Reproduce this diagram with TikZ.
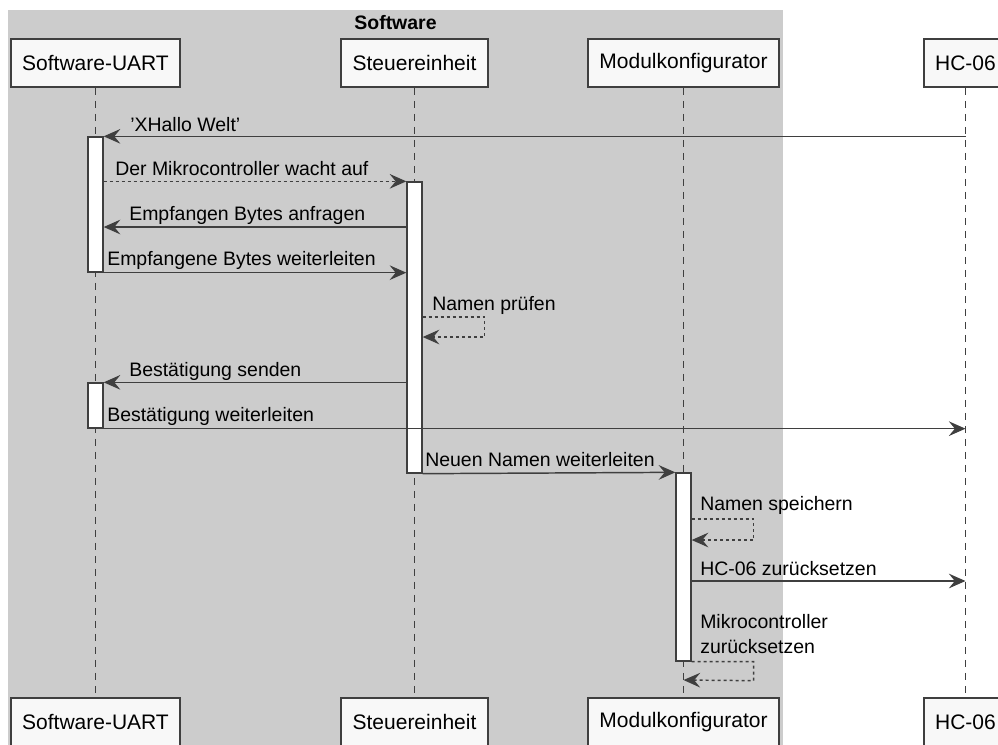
\documentclass[tikz,border=0pt]{standalone}
\usepackage{fontspec}
\setmainfont{Liberation Sans}
\usepackage{xcolor}
\usepackage{tikz}
\usetikzlibrary{arrows.meta,positioning,fit}

\definecolor{groupgray}{HTML}{CCCCCC}
\definecolor{linegray}{HTML}{3F3F3F}
\definecolor{boxfill}{HTML}{F8F8F8}

\begin{document}
\begin{tikzpicture}[
    x=0.75pt, y=-0.75pt,
    every node/.style={font=\fontsize{14.6}{18.7}\selectfont},
    participant/.style={
        draw=linegray,
        line width=1.2pt,
        fill=boxfill,
        minimum height=36pt,
        inner xsep=8.6pt,
        font=\fontsize{15.75}{19}\selectfont
    },
    lifeline/.style={
        draw=linegray,
        line width=0.9pt,
        dash pattern=on 5.25pt off 4.5pt
    },
    activation/.style={
        draw=linegray,
        line width=1pt,
        fill=white,
        inner sep=0pt
    },
    msgtext/.style={
        anchor=base west,
        inner sep=0pt
    },
    message/.style={
        draw=linegray,
        line width=1.1pt,
        -{Stealth[length=12.5pt, width=11pt, inset=4.5pt]}
    },
    reply/.style={
        message,
        dash pattern=on 2.25pt off 2.25pt
    }
]

\useasboundingbox (0,0) rectangle (998,744);

% ==========================================================
% SOFTWARE GROUP
% ==========================================================

\fill[groupgray] (8,10) rectangle (783,750);

\node[
    anchor=base,
    inner sep=0pt,
    font=\bfseries\fontsize{14.6}{18}\selectfont
] (group-title) at (395.5,29.5) {Software};

% ==========================================================
% PARTICIPANTS
% ==========================================================

\node[participant] (uart-top) at (95.5,63)  {Software-UART};
\node[participant] (ctrl-top) at (414.5,63) {Steuereinheit};
\node[participant] (conf-top) at (683.5,63) {Modulkonfigurator};
\node[participant] (hc-top)   at (965.5,63) {HC-06};

\node[participant] (uart-bot) at (95.5,722)  {Software-UART};
\node[participant] (ctrl-bot) at (414.5,722) {Steuereinheit};
\node[participant] (conf-bot) at (683.5,722) {Modulkonfigurator};
\node[participant] (hc-bot)   at (965.5,722) {HC-06};

% lifelines
\draw[lifeline] (uart-top) -- (uart-bot);
\draw[lifeline] (ctrl-top) -- (ctrl-bot);
\draw[lifeline] (conf-top) -- (conf-bot);
\draw[lifeline] (hc-top) -- (hc-bot);

% ==========================================================
% ACTIVATIONS
% ==========================================================

\node[activation, fit={(88,137) (103,272)}] (uart-act1) {};
\node[activation, fit={(88,383) (103,428)}] (uart-act2) {};
\node[activation, fit={(407,182) (422,473)}] (ctrl-act) {};
\node[activation, fit={(676,473) (691,661)}] (conf-act) {};

% ==========================================================
% MESSAGES
% ==========================================================

\coordinate (check-row)  at (0,317);
\coordinate (store-row)  at (0,519);
\coordinate (reset-row)  at (0,581);
\coordinate (return-row) at (0,680);

\draw[message] (hc-top |- uart-act1.north) -- (uart-act1.north east);
\node[msgtext] (lbl-hallo) at (130,131) {'XHallo Welt'};

\draw[reply] (uart-act1.east |- ctrl-act.north) -- (ctrl-act.north west);
\node[msgtext] (lbl-wake) at (115,175) {Der Mikrocontroller wacht auf};

\draw[message] (ctrl-act.west |- 0,227) -- (uart-act1.east |- 0,227);
\node[msgtext] (lbl-request) at (129,220) {Empfangen Bytes anfragen};

\draw[message] (uart-act1.south east) -- (ctrl-act.west |- uart-act1.south);
\node[msgtext] (lbl-forward) at (107,265) {Empfangene Bytes weiterleiten};

% self call: check name
\draw[reply] (ctrl-act.east |- check-row) -- ++(62,0) -- ++(0,20)
    -- (ctrl-act.east |- 0,337);
\node[msgtext] (lbl-check) at (432,310) {Namen prüfen};

\draw[message] (ctrl-act.west |- uart-act2.north) -- (uart-act2.north east);
\node[msgtext] (lbl-confirm) at (129,376) {Bestätigung senden};

\draw[message] (uart-act2.south east) -- (hc-top |- uart-act2.south);
\node[msgtext] (lbl-confirm-fwd) at (107,421) {Bestätigung weiterleiten};

\draw[message] (ctrl-act.south east) -- (conf-act.north west);
\node[msgtext] (lbl-newname) at (425,466) {Neuen Namen weiterleiten};

% self call: store name
\draw[reply] (conf-act.east |- store-row) -- ++(62,0) -- ++(0,21)
    -- (conf-act.east |- 0,540);
\node[msgtext] (lbl-store) at (700,510) {Namen speichern};

\draw[message] (conf-act.east |- reset-row) -- (hc-top |- reset-row);
\node[msgtext] (lbl-reset-hc) at (700,575) {HC-06 zurücksetzen};

% self call: restart
\draw[reply] (conf-act.south east) -- ++(62,0) -- ++(0,19)
    -- (conf-top |- return-row);
\node[msgtext, align=left] (lbl-restart) at (700,653)
    {Mikrocontroller\\zurücksetzen};

\end{tikzpicture}
\end{document}
